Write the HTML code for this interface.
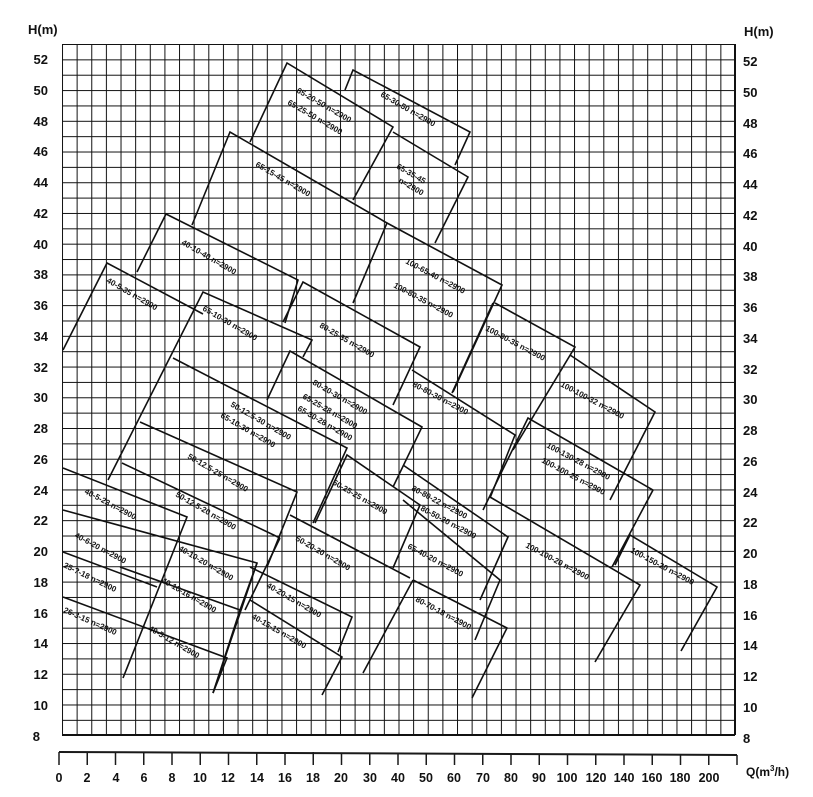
<!DOCTYPE html>
<html><head><meta charset="utf-8"><style>
html,body{margin:0;padding:0;background:#fff;}
svg{display:block;}
text{font-family:"Liberation Sans",sans-serif;fill:#111;}
.ax{font-size:13px;font-weight:bold;}
.lb{font-size:8px;font-weight:bold;}
</style></head><body>
<svg width="813" height="797" viewBox="0 0 813 797" xmlns="http://www.w3.org/2000/svg">
<defs>
<pattern id="g" x="62" y="44" width="14.63" height="15.36" patternUnits="userSpaceOnUse">
<path d="M0 0 V15.36 M0 0 H14.63" stroke="#111" stroke-width="2" fill="none"/>
</pattern>
</defs>
<rect x="62" y="44" width="673" height="691" fill="url(#g)"/>
<path d="M735 44 V735 M62 735 H735" stroke="#111" stroke-width="2"/>

<text class="ax" x="28" y="34">H(m)</text>
<text class="ax" x="744" y="36">H(m)</text>
<g class="ax" text-anchor="end">
<text x="48" y="64">52</text><text x="48" y="95">50</text><text x="48" y="126">48</text><text x="48" y="156">46</text><text x="48" y="187">44</text><text x="48" y="218">42</text><text x="48" y="249">40</text><text x="48" y="279">38</text><text x="48" y="310">36</text><text x="48" y="341">34</text><text x="48" y="372">32</text><text x="48" y="402">30</text><text x="48" y="433">28</text><text x="48" y="464">26</text><text x="48" y="495">24</text><text x="48" y="525">22</text><text x="48" y="556">20</text><text x="48" y="587">18</text><text x="48" y="618">16</text><text x="48" y="648">14</text><text x="48" y="679">12</text><text x="48" y="710">10</text><text x="40" y="741">8</text>
</g>
<g class="ax">
<text x="743" y="66">52</text><text x="743" y="97">50</text><text x="743" y="128">48</text><text x="743" y="158">46</text><text x="743" y="189">44</text><text x="743" y="220">42</text><text x="743" y="251">40</text><text x="743" y="281">38</text><text x="743" y="312">36</text><text x="743" y="343">34</text><text x="743" y="374">32</text><text x="743" y="404">30</text><text x="743" y="435">28</text><text x="743" y="466">26</text><text x="743" y="497">24</text><text x="743" y="527">22</text><text x="743" y="558">20</text><text x="743" y="589">18</text><text x="743" y="620">16</text><text x="743" y="650">14</text><text x="743" y="681">12</text><text x="743" y="712">10</text><text x="743" y="743">8</text>
</g>

<path d="M59 752 L737 755" stroke="#1a1a1a" stroke-width="2"/>
<g stroke="#1a1a1a" stroke-width="1.5">
<path d="M59 752V765M87.25 752V765M115.5 752V765M143.75 752V765M172 752V765M200.25 752V765M228.5 752V765M256.75 752V765M285 752V765M313.25 752V765M341.5 753V765M369.75 753V765M398 753V765M426.25 753V765M454.5 753V765M482.75 754V765M511 754V765M539.25 754V765M567.5 754V765M595.75 754V765M624 754V765M652.25 754V765M680.5 754V765M708.75 754V765M737 755V765"/>
</g>
<g class="ax" text-anchor="middle" style="font-size:12.5px">
<text x="59" y="782">0</text><text x="87" y="782">2</text><text x="116" y="782">4</text><text x="144" y="782">6</text><text x="172" y="782">8</text><text x="200" y="782">10</text><text x="228" y="782">12</text><text x="257" y="782">14</text><text x="285" y="782">16</text><text x="313" y="782">18</text><text x="341" y="782">20</text><text x="370" y="782">30</text><text x="398" y="782">40</text><text x="426" y="782">50</text><text x="454" y="782">60</text><text x="483" y="782">70</text><text x="511" y="782">80</text><text x="539" y="782">90</text><text x="567" y="782">100</text><text x="596" y="782">120</text><text x="624" y="782">140</text><text x="652" y="782">160</text><text x="680" y="782">180</text><text x="709" y="782">200</text>
</g>
<text class="ax" x="746" y="776" style="font-size:12px">Q(m<tspan dy="-5" style="font-size:8px">3</tspan><tspan dy="5">/h)</tspan></text>

<g stroke="#111" stroke-width="1.6" fill="none">
<path d="M250 142 L287 63 L393 127 L353 200"/>
<path d="M345 90 L353 70 L470 132 L455 165"/>
<path d="M393 132 L468 177 L435 243"/>
<path d="M192 225 L230 132 L387 223 L353 303"/>
<path d="M387 223 L502 285 L453 392"/>
<path d="M493 303 L452 393 M495 303 L575 347 L513 450"/>
<path d="M570 355 L655 412 L610 500"/>
<path d="M483 510 L528 418 L653 490 L612 567"/>
<path d="M490 497 L640 585 L595 662"/>
<path d="M615 565 L630 535 L717 587 L681 651"/>
<path d="M412 370 L515 435 L490 498"/>
<path d="M137 272 L166 214 L298 280 L285 323"/>
<path d="M283 322 L303 282 L420 347 L393 405"/>
<path d="M63 350 L107 263 L203 314"/>
<path d="M108 480 L203 292 L312 340 L303 357"/>
<path d="M267 400 L290 351 L422 427 L393 487"/>
<path d="M173 358 L347 448 L313 523"/>
<path d="M140 422 L297 492 L267 567"/>
<path d="M315 523 L347 455 L420 505 L393 568"/>
<path d="M290 515 L410 578"/>
<path d="M413 580 L507 628 L472 698 M413 580 L363 673"/>
<path d="M403 465 L508 537 L480 600 M403 500 L500 580 L475 640"/>
<path d="M250 567 L352 617 L338 652 M250 600 L342 657 L322 695"/>
<path d="M63 468 L187 517 L123 678"/>
<path d="M122 463 L280 538"/>
<path d="M63 510 L257 563 L213 693"/>
<path d="M63 552 L157 587"/>
<path d="M120 567 L240 610 L213 693"/>
<path d="M63 597 L227 658 L213 693"/>
<path d="M280 538 L245 610 M257 563 L240 610"/>
</g>

<g class="lb">
<text transform="translate(296,92) rotate(30)">65-20-50 n=2900</text>
<text transform="translate(287,104) rotate(30)">65-25-50 n=2900</text>
<text transform="translate(380,96) rotate(30)">65-30-50 n=2900</text>
<text transform="translate(396,168) rotate(30)">65-35-45</text>
<text transform="translate(398,182) rotate(30)">n=2900</text>
<text transform="translate(255,166) rotate(30)">65-15-45 n=2900</text>
<text transform="translate(405,263) rotate(28)">100-65-40 n=2900</text>
<text transform="translate(393,287) rotate(28)">100-80-35 n=2900</text>
<text transform="translate(181,244) rotate(30)">40-10-40 n=2900</text>
<text transform="translate(106,282) rotate(30)">40-5-35 n=2900</text>
<text transform="translate(202,310) rotate(30)">65-10-30 n=2900</text>
<text transform="translate(319,327) rotate(30)">80-25-35 n=2900</text>
<text transform="translate(485,330) rotate(28)">100-80-35 n=2900</text>
<text transform="translate(412,386) rotate(28)">80-80-30 n=2900</text>
<text transform="translate(560,386) rotate(28)">100-100-32 n=2900</text>
<text transform="translate(312,384) rotate(30)">80-20-30 n=2900</text>
<text transform="translate(302,398) rotate(30)">65-25-28 n=2900</text>
<text transform="translate(297,410) rotate(30)">65-30-28 n=2900</text>
<text transform="translate(230,406) rotate(30)">50-12.5-30 n=2900</text>
<text transform="translate(220,417) rotate(30)">65-10-30 n=2900</text>
<text transform="translate(187,458) rotate(30)">50-12.5-25 n=2900</text>
<text transform="translate(332,484) rotate(30)">50-25-25 n=2900</text>
<text transform="translate(546,447) rotate(28)">100-130-28 n=2900</text>
<text transform="translate(541,462) rotate(28)">100-100-25 n=2900</text>
<text transform="translate(84,493) rotate(28)">40-5-23 n=2900</text>
<text transform="translate(175,496) rotate(30)">50-12.5-20 n=2900</text>
<text transform="translate(74,537) rotate(28)">40-6-20 n=2900</text>
<text transform="translate(178,550) rotate(30)">40-10-20 n=2900</text>
<text transform="translate(295,540) rotate(30)">50-20-20 n=2900</text>
<text transform="translate(411,490) rotate(28)">80-80-22 n=2900</text>
<text transform="translate(420,510) rotate(28)">80-50-20 n=2900</text>
<text transform="translate(407,548) rotate(28)">65-40-20 n=2900</text>
<text transform="translate(525,547) rotate(28)">100-100-20 n=2900</text>
<text transform="translate(630,552) rotate(28)">100-150-20 n=2900</text>
<text transform="translate(63,567) rotate(26)">25-?-18 n=2900</text>
<text transform="translate(161,582) rotate(30)">40-10-16 n=2900</text>
<text transform="translate(266,587) rotate(30)">40-20-15 n=2900</text>
<text transform="translate(251,618) rotate(30)">40-15-15 n=2900</text>
<text transform="translate(415,601) rotate(28)">80-70-18 n=2900</text>
<text transform="translate(63,612) rotate(24)">26-3-15 n=2900</text>
<text transform="translate(148,630) rotate(30)">40-5-12 n=2900</text>
</g>
</svg>
</body></html>
